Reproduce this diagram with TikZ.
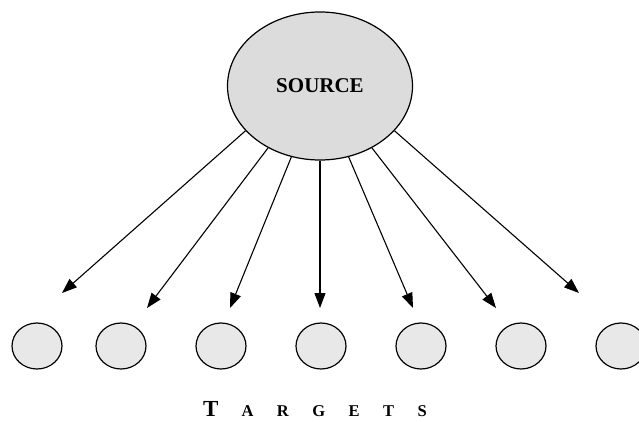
\documentclass[tikz,border=0pt]{standalone}
\usepackage{fontspec}
\setmainfont{Liberation Serif}
\usetikzlibrary{arrows.meta,shapes.geometric}
\definecolor{srcgray}{RGB}{220,220,220}
\definecolor{tgtgray}{RGB}{232,232,232}

\begin{document}
\begin{tikzpicture}[x=1pt,y=-1pt,font=\bfseries,
  src/.style={ellipse,draw,line width=1.2pt,fill=srcgray,minimum width=185pt,minimum height=148pt,inner sep=0pt},
  tgt/.style={ellipse,draw,line width=1.2pt,fill=tgtgray,minimum width=50pt,minimum height=46pt,inner sep=0pt},
  feed/.style={line width=1.1pt,-{Triangle[length=15pt,width=11pt]}}]
\useasboundingbox (0,0) rectangle (639,421);
\node[src] (source) at (320,86) {\fontsize{21}{24}\selectfont SOURCE};
\foreach \i/\xx in {1/37,2/121,3/221,4/321,5/421,6/521,7/621}{
\node[tgt] (target\i) at (\xx,346) {};}
\foreach \i/\ang/\tx/\ty in {1/211/62/293,2/230/147/308,3/248/230/308,4/270/320/308,5/292/413/308,6/310/496/308,7/329/579/293}{
\coordinate (tip\i) at (\tx,\ty);
\draw[feed] (source.\ang) -- (tip\i);}
\node[anchor=base west,inner sep=0pt] (label) at (203,416) {\fontsize{23}{24}\selectfont T\hspace{23pt}\fontsize{16.5}{18}\selectfont A\hspace{23.5pt}R\hspace{23.5pt}G\hspace{23.5pt}E\hspace{23.5pt}T\hspace{23.5pt}S};
\end{tikzpicture}
\end{document}
